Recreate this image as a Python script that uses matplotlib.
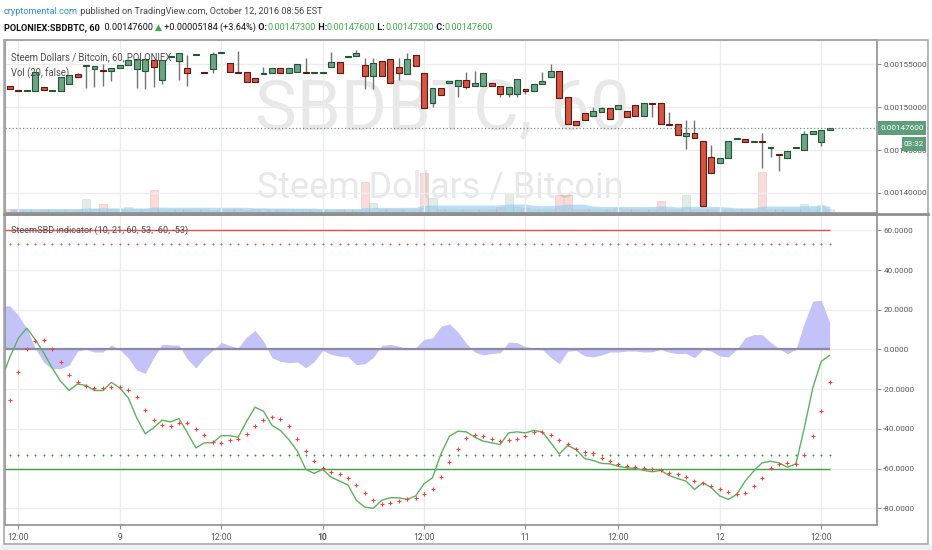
import numpy as np
import matplotlib
matplotlib.use('Agg')
import matplotlib.pyplot as plt
from matplotlib import font_manager as fm
from matplotlib.patches import Rectangle
from matplotlib.lines import Line2D
import pandas as pd

W, H, DPI = 932, 550, 100

avail = {f.name for f in fm.fontManager.ttflist}
if 'Liberation Sans Narrow' in avail:
    FAM, K = 'Liberation Sans Narrow', 1.0
else:
    FAM, K = 'Roboto', 0.86
plt.rcParams['font.family'] = [FAM, 'DejaVu Sans']

def fs(pt):
    return pt * K

# ---------------- data (prices in satoshi, 1e-8 BTC) ----------------
OPEN_SAT = [152490, 151920, 151910, 151910, 152380, 151910, 151910, 152660, 153860, 154780,
            154410, 154320, 154210, 154520, 154910, 154410, 154240, 155490, 153160, 155840,
            155410, 154520, 156110, 154020, 154410, 156270, 155100, 154090, 154060, 153430,
            153890, 153940, 154520, 153940, 154130, 154090, 154010, 154010, 154710, 155220,
            155800, 155960, 154910, 153660, 155410, 155570, 154640, 153860, 156070, 153940,
            150440, 152260, 152840, 152460, 153160, 152460, 152490, 152770, 152460, 151490,
            151530, 152080, 151910, 152660, 153470, 154240, 151140, 148380, 149280, 149000,
            149460, 149860, 149740, 149550, 150240, 148960, 150440, 150440, 148000, 148000,
            146630, 147020, 146050, 144150, 143450, 144030, 146250, 146250, 145970, 145970,
            145200, 144500, 144030, 145200, 145000, 146830, 145970, 147300]
CLOSE_SAT = [152110, 151910, 151920, 154060, 151990, 151910, 153470, 153740, 153540, 154790,
             154790, 154210, 154520, 154910, 155490, 155570, 155570, 154710, 155490, 155850,
             156270, 153940, 156220, 154000, 156190, 156460, 154060, 154010, 152960, 152960,
             153970, 154520, 153940, 154520, 155020, 154010, 154010, 154010, 155220, 153940,
             155800, 156340, 153660, 155100, 153660, 152770, 153940, 155570, 154790, 149860,
             152190, 151410, 153040, 153160, 152380, 152770, 154010, 152460, 151490, 152380,
             153240, 151880, 152690, 153040, 154240, 151030, 148030, 147910, 148500, 149550,
             149860, 148610, 150240, 148880, 148960, 150440, 150360, 148000, 147950, 146750,
             147020, 146360, 138510, 142350, 144030, 146050, 146250, 145970, 145970, 145900,
             145200, 144380, 144880, 145200, 146830, 147210, 147330, 147600]
HIGH_SAT = [152490, 151920, 151920, 154060, 152380, 151910, 153470, 153740, 154010, 154790,
            154790, 155020, 154520, 154910, 155490, 155570, 155570, 155490, 155490, 155850,
            156270, 156070, 156220, 154020, 156460, 156460, 155100, 156570, 154060, 153430,
            154710, 154520, 154520, 154520, 155020, 155690, 154010, 154010, 156390, 155220,
            155800, 156660, 155690, 155690, 155410, 155570, 155690, 156270, 156070, 153940,
            152190, 152260, 153040, 153160, 154130, 154240, 154010, 152770, 152460, 152380,
            153240, 152080, 152690, 154060, 155020, 154240, 151140, 148380, 149280, 150050,
            150050, 149860, 150240, 149550, 150240, 150440, 150440, 150440, 149460, 148000,
            148500, 148500, 146050, 145580, 144030, 146050, 146250, 146250, 145970, 147020,
            145200, 144500, 144880, 145200, 147250, 147210, 147330, 147600]
LOW_SAT = [152110, 151910, 151910, 151910, 151990, 151910, 151910, 152660, 153540, 152190,
           152310, 152460, 153080, 154520, 154910, 152190, 152080, 152380, 152660, 155840,
           153160, 152460, 156110, 154000, 153940, 156270, 154060, 154010, 152960, 152960,
           153890, 153940, 153940, 153940, 154130, 154010, 154010, 154010, 154710, 153940,
           155800, 155960, 152080, 152080, 153660, 152770, 153160, 153860, 154790, 149860,
           150050, 151410, 152840, 151140, 152080, 152460, 152490, 152460, 151140, 151140,
           151140, 151530, 151910, 152660, 153470, 151030, 148030, 147910, 148500, 149000,
           149460, 148610, 149740, 148880, 148960, 148960, 148880, 148000, 147950, 146750,
           145080, 146360, 138510, 142350, 143450, 144030, 146250, 145970, 145970, 142940,
           144150, 142590, 144030, 145200, 145000, 146830, 145470, 147300]
VOLUME = [4, 4, 4, 4, 4, 4, 4, 4, 4, 14,
          4, 9, 4, 4, 6, 4, 4, 23, 4, 4,
          4, 4, 4, 4, 3, 4, 4, 4, 3, 4,
          4, 4, 4, 4, 4, 4, 4, 4, 4, 4,
          4, 4, 31, 10, 4, 4, 4, 4, 4, 40,
          15, 4, 4, 4, 4, 4, 4, 4, 6, 20,
          6, 5, 4, 4, 4, 18, 18, 4, 4, 4,
          4, 4, 5, 4, 4, 4, 4, 12, 4, 4,
          18, 4, 4, 4, 4, 4, 4, 4, 4, 41,
          4, 4, 4, 4, 9, 4, 8, 4]

# SteemSBD indicator (10, 21, 60, 53, -60, -53); bar -1 .. 97
IND_PARAMS = (10, 21, 60, 53, -60, -53)
OSC = [-15.0, -3.7, 5.7, 10.7, 4.9, -1.8, -9.4, -16.1, -20.6, -17.4, -18.1,
       -20.7, -20.7, -16.6, -19.4, -24.4, -34.5, -42.4, -39.5, -35.6, -36.5,
       -34.8, -42.0, -49.6, -47.0, -47.0, -43.4, -43.4, -44.2, -36.2, -29.1,
       -31.1, -38.2, -40.8, -45.4, -51.2, -60.4, -62.4, -60.4, -64.3, -66.3,
       -68.3, -76.0, -79.4, -80.0, -75.9, -74.7, -74.7, -75.5, -73.8, -67.6,
       -64.6, -52.6, -43.7, -41.2, -41.5, -44.2, -46.2, -47.0, -47.9, -42.0,
       -41.5, -42.0, -40.8, -41.5, -47.0, -52.6, -48.4, -50.4, -54.9, -55.9,
       -57.4, -57.6, -58.9, -59.6, -59.9, -60.9, -61.6, -60.9, -63.5, -65.0,
       -66.3, -70.5, -67.1, -69.6, -73.8, -75.5, -73.0, -66.3, -61.3, -57.1,
       -56.3, -57.1, -59.3, -57.6, -39.5, -19.4, -6.0, -3.0]
SIG = [-37.0, -25.6, -11.4, 0.2, 4.4, 4.7, 0.4, -6.5, -12.7, -16.6, -18.2,
       -19.4, -19.4, -18.9, -19.1, -20.2, -24.1, -30.3, -35.3, -38.2, -38.8,
       -37.0, -37.0, -40.3, -42.9, -46.5, -47.0, -45.4, -44.9, -42.5, -38.7,
       -35.3, -34.0, -34.8, -38.7, -44.9, -51.2, -56.3, -59.9, -61.8, -62.9,
       -64.6, -68.3, -72.2, -76.0, -78.0, -77.2, -76.4, -75.5, -74.7, -72.7,
       -70.5, -64.3, -56.6, -50.1, -44.5, -42.9, -43.4, -45.0, -46.2, -45.7,
       -44.9, -43.4, -41.5, -41.5, -42.9, -45.4, -47.5, -49.9, -51.7, -52.1,
       -54.6, -56.3, -57.6, -58.8, -59.1, -59.6, -60.4, -60.9, -62.1, -62.9,
       -64.3, -66.3, -67.1, -68.8, -70.5, -71.7, -73.0, -72.2, -68.8, -64.6,
       -59.9, -57.6, -57.1, -57.6, -52.9, -43.7, -30.8, -16.6]

TICK_POS = [1, 13, 25, 37, 49, 61, 72, 84, 96]
TICK_LAB = ['12:00', '9', '12:00', '10', '12:00', '11', '12:00', '12', '12:00']
PRICE_TICKS = [0.00140, 0.00145, 0.00150, 0.00155]
IND_TICKS = [-80, -60, -40, -20, 0, 20, 40, 60]
LAST_PRICE = 0.001476

# ---------------- derived ----------------
o = np.array(OPEN_SAT) * 1e-8
c = np.array(CLOSE_SAT) * 1e-8
hi = np.array(HIGH_SAT) * 1e-8
lo = np.array(LOW_SAT) * 1e-8
vol = np.array(VOLUME, dtype=float)
x = np.arange(len(o))
xi = np.arange(-1, len(o))
osc = np.array(OSC)
sig = np.array(SIG)
vol_ma = pd.Series(vol).rolling(20, min_periods=1).mean().values

UP, DN = '#6ba583', '#d75442'
UP_E, DN_E = '#225437', '#5b1a13'

fig = plt.figure(figsize=(W / DPI, H / DPI), dpi=DPI)
fig.patch.set_facecolor('white')

def fx(px):
    return px / W

def fy(py):
    return 1 - py / H

ax1 = fig.add_axes([fx(5), fy(213), fx(877) - fx(5), (213 - 40) / H])
axv = ax1.twinx()
ax2 = fig.add_axes([fx(5), fy(525), fx(877) - fx(5), (525 - 215) / H], sharex=ax1)

XL = (-0.59, 102.6)
ax1.set_xlim(*XL)
ax1.set_ylim(0.0013766, 0.0015782)
axv.set_ylim(0, 173)
ax2.set_ylim(-88.4, 67.7)

ax1.set_zorder(2)
ax1.patch.set_visible(False)
axv.set_zorder(1)
axv.axis('off')

# watermark
axv.text(fx(442), fy(130), 'SBDBTC, 60', transform=fig.transFigure, ha='center', va='baseline',
         fontsize=fs(59), color='#e8e8e8', zorder=0)
axv.text(fx(440), fy(197), 'Steem Dollars / Bitcoin', transform=fig.transFigure, ha='center',
         va='baseline', fontsize=fs(30), color='#e8e8e8', zorder=0)

# volume
up = c >= o
vcol = np.where(up, UP, DN)
axv.bar(x, vol, width=0.95, color=vcol, alpha=0.2, edgecolor=vcol, linewidth=0.6, zorder=1)
axv.fill_between(x, 0, vol_ma, color='#8ec9f0', alpha=0.6, lw=0, zorder=2)

# grid
for a in (ax1, ax2):
    a.set_xticks(TICK_POS)
    a.grid(True, color='#ececec', lw=1)
    a.set_axisbelow(True)
    for s in a.spines.values():
        s.set_color('#8f8f8f')
        s.set_linewidth(1.2)

# candles
ax1.vlines(x, lo, hi, color='#737375', lw=1, zorder=2)
body_b = np.minimum(o, c)
body_h = np.maximum(np.abs(c - o), 1.2e-6)
ax1.bar(x, body_h, bottom=body_b, width=0.7, color=np.where(up, UP, DN),
        edgecolor=np.where(up, UP_E, DN_E), linewidth=0.8, zorder=3)
ax1.axhline(LAST_PRICE, color='#5e9e7c', ls=(0, (1, 1.8)), lw=0.9, zorder=4)

ax1.yaxis.tick_right()
ax1.set_yticks(PRICE_TICKS)
ax1.set_yticklabels(['{:.8f}'.format(v) for v in PRICE_TICKS])
ax1.tick_params(axis='y', length=3, pad=1.5, labelsize=fs(6.8), labelcolor='#555555', color='#8f8f8f')
ax1.tick_params(axis='x', length=0, labelbottom=False)

# indicator
ax2.fill_between(xi, 0, osc - sig, color='#c3c3f9', lw=0, zorder=1)
ax2.hlines(0, xi[0], xi[-1], color='#8a8aa6', lw=1.6, zorder=2)
ax2.hlines(IND_PARAMS[2], xi[0], xi[-1], color='#e8504f', lw=1, zorder=2)
ax2.hlines(IND_PARAMS[4], xi[0], xi[-1], color='#43a047', lw=1, zorder=2)
ax2.plot(x, np.full(len(x), IND_PARAMS[3]), ls='none', marker='+', ms=2.0, mew=0.7, color='#ff4d4d', zorder=2)
ax2.plot(x, np.full(len(x), IND_PARAMS[5]), ls='none', marker='+', ms=2.0, mew=0.7, color='#3c9a3c', zorder=2)
ax2.plot(xi, osc, color='#5cb35c', lw=1, zorder=3)
ax2.plot(xi, sig, ls='none', marker='+', ms=2.4, mew=0.8, color='#ff3b3b', zorder=4)

ax2.yaxis.tick_right()
ax2.set_yticks(IND_TICKS)
ax2.set_yticklabels(['{:.4f}'.format(v) for v in IND_TICKS])
ax2.tick_params(axis='y', length=3, pad=1.5, labelsize=fs(6.8), labelcolor='#555555', color='#8f8f8f')
ax2.set_xticks(TICK_POS)
ax2.set_xticklabels(TICK_LAB)
ax2.tick_params(axis='x', length=3, pad=3, labelsize=fs(7.2), labelcolor='#555555', color='#8f8f8f')
ax2.get_xticklabels()[3].set_fontweight('bold')

# panel labels
fig.text(fx(11), fy(57), 'Steem Dollars / Bitcoin, 60, POLONIEX', va='center', ha='left',
         fontsize=fs(8), color='#4d4d4d', zorder=6)
fig.text(fx(11), fy(73), 'Vol (20, false)', va='center', ha='left', fontsize=fs(8), color='#4d4d4d', zorder=6)
fig.text(fx(11), fy(230), 'SteemSBD indicator (10, 21, 60, 53, -60, -53)', va='center', ha='left',
         fontsize=fs(7.6), color='#4d4d4d', zorder=6)

# price boxes
fig.add_artist(Rectangle((fx(878), fy(134.5)), (926 - 878) / W, 13.5 / H, transform=fig.transFigure,
                         fc='#5f9e7b', ec='none', zorder=7))
fig.text(fx(902), fy(127.7), '{:.8f}'.format(LAST_PRICE), ha='center', va='center', color='white',
         fontsize=fs(6.8), zorder=8)
fig.add_artist(Rectangle((fx(902), fy(151.5)), (926 - 902) / W, 14.5 / H, transform=fig.transFigure,
                         fc='#5f9e7b', ec='none', zorder=7))
fig.text(fx(914), fy(144.3), '03:32', ha='center', va='center', color='white', fontsize=fs(6.8), zorder=8)

# frame
fig.add_artist(Rectangle((fx(4), fy(544)), (928 - 4) / W, (544 - 40) / H, transform=fig.transFigure,
                         fill=False, ec='#a8a8a8', lw=1.2, zorder=6))
fig.add_artist(Line2D([fx(4), fx(928)], [fy(214), fy(214)], transform=fig.transFigure,
                      color='#8f8f8f', lw=2, zorder=6))
fig.add_artist(Rectangle((0, 0), 1, 5.5 / H, transform=fig.transFigure, fc='#eef1f4', ec='none', zorder=5))

# header lines
renderer = fig.canvas.get_renderer()

def chain(parts, x0, y):
    xpos = x0
    for s, kw in parts:
        t = fig.text(fx(xpos), fy(y), s, ha='left', va='center', zorder=9, **kw)
        bb = t.get_window_extent(renderer)
        xpos = bb.x1

HS = fs(7.7)
G = '#3fae49'
N = dict(fontsize=HS, color='#444444')
B = dict(fontsize=HS, color='#111111', fontweight='bold')
GR = dict(fontsize=HS, color=G)
chain([('cryptomental.com', dict(fontsize=HS, color='#2f8fd8')),
       (' published on TradingView.com, October 12, 2016 08:56 EST', N)], 4, 11)
chain([('POLONIEX:SBDBTC, 60', B),
       ('  0.00147600 ', dict(fontsize=HS, color='#111111')),
       ('\u25b2', dict(fontsize=HS, color=G, family=['DejaVu Sans'])),
       (' +0.00005184 (+3.64%)', dict(fontsize=HS, color='#111111')),
       (' O:', B), ('0.00147300', GR),
       (' H:', B), ('0.00147600', GR),
       (' L:', B), ('0.00147300', GR),
       (' C:', B), ('0.00147600', GR)], 4, 27.5)

fig.savefig('out.png', dpi=DPI)
